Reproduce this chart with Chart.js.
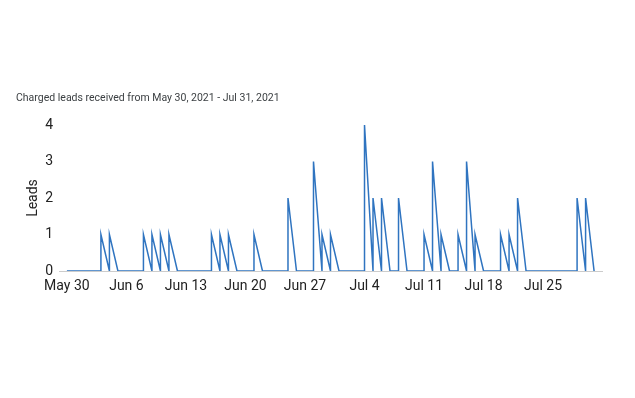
<!DOCTYPE html>
<html>
<head>
<meta charset="utf-8">
<script src="https://cdn.jsdelivr.net/npm/chart.js@4"></script>
<style>
  body { margin: 0; background: #fff; font-family: Roboto, sans-serif; }
  #wrap { position: relative; width: 635px; height: 398px; }
  #titulo { position: absolute; left: 16px; top: 91px; font-size: 10.5px; line-height: 13px; color: #3c4043; }
</style>
</head>
<body>
<div id="wrap">
  <div id="titulo">Charged leads received from May 30, 2021 - Jul 31, 2021</div>
  <canvas id="graficoLeads" width="635" height="398"></canvas>
</div>
<script>
// leads por dia, de May 30 (dia 0) até Jul 31 (dia 62)
const leads = [
  0, 0, 0, 0, 1, 1, 0,   // May 30 - Jun 5
  0, 0, 1, 1, 1, 1, 0,   // Jun 6 - Jun 12
  0, 0, 0, 1, 1, 1, 0,   // Jun 13 - Jun 19
  0, 1, 0, 0, 0, 2, 0,   // Jun 20 - Jun 26
  0, 3, 1, 1, 0, 0, 0,   // Jun 27 - Jul 3
  4, 2, 2, 0, 2, 0, 0,   // Jul 4 - Jul 10
  1, 3, 1, 0, 1, 3, 1,   // Jul 11 - Jul 17
  0, 0, 1, 1, 2, 0, 0,   // Jul 18 - Jul 24
  0, 0, 0, 0, 2, 2, 0,   // Jul 25 - Jul 31
];
const tickLabels = ['May 30', 'Jun 6', 'Jun 13', 'Jun 20', 'Jun 27', 'Jul 4', 'Jul 11', 'Jul 18', 'Jul 25'];
const yTicks = [0, 1, 2, 3, 4];

// cada dia começa em zero e sobe na vertical até o valor
const pontos = [];
leads.forEach((v, i) => {
  pontos.push({ x: i, y: 0 });
  if (v > 0) pontos.push({ x: i, y: v });
});

const ctxLeads = document.getElementById('graficoLeads').getContext('2d');
new Chart(ctxLeads, {
  type: 'line',
  data: {
    datasets: [{
      label: 'Leads',
      data: pontos,
      borderColor: '#2f74c0',
      borderWidth: 1.5,
      pointRadius: 0,
      tension: 0,
      fill: false
    }]
  },
  options: {
    responsive: false,
    animation: false,
    layout: { padding: { top: 125, right: 33, left: 0, bottom: 0 } },
    plugins: {
      legend: { display: false },
      tooltip: { enabled: false }
    },
    scales: {
      x: {
        type: 'linear',
        min: -0.93,
        max: 62.93,
        grid: { display: false, drawTicks: false },
        border: { display: true, color: '#cccccc', width: 1 },
        afterBuildTicks: (scale) => {
          scale.ticks = tickLabels.map((_, i) => ({ value: i * 7 }));
        },
        afterFit: (scale) => { scale.height = 127; },
        ticks: {
          padding: 7,
          maxRotation: 0,
          autoSkip: false,
          color: '#222222',
          font: { family: 'Roboto', size: 14 },
          callback: (value) => tickLabels[value / 7]
        }
      },
      y: {
        min: 0,
        max: 4,
        grid: { display: false, drawTicks: false },
        border: { display: false },
        afterBuildTicks: (scale) => {
          scale.ticks = yTicks.map(v => ({ value: v }));
        },
        afterFit: (scale) => { scale.width = 59; },
        ticks: {
          padding: 6,
          color: '#222222',
          font: { family: 'Roboto', size: 14 }
        },
        title: {
          display: true,
          text: 'Leads',
          color: '#222222',
          font: { family: 'Roboto', size: 14 },
          padding: { top: 25, bottom: 0 }
        }
      }
    }
  }
});
</script>
</body>
</html>
